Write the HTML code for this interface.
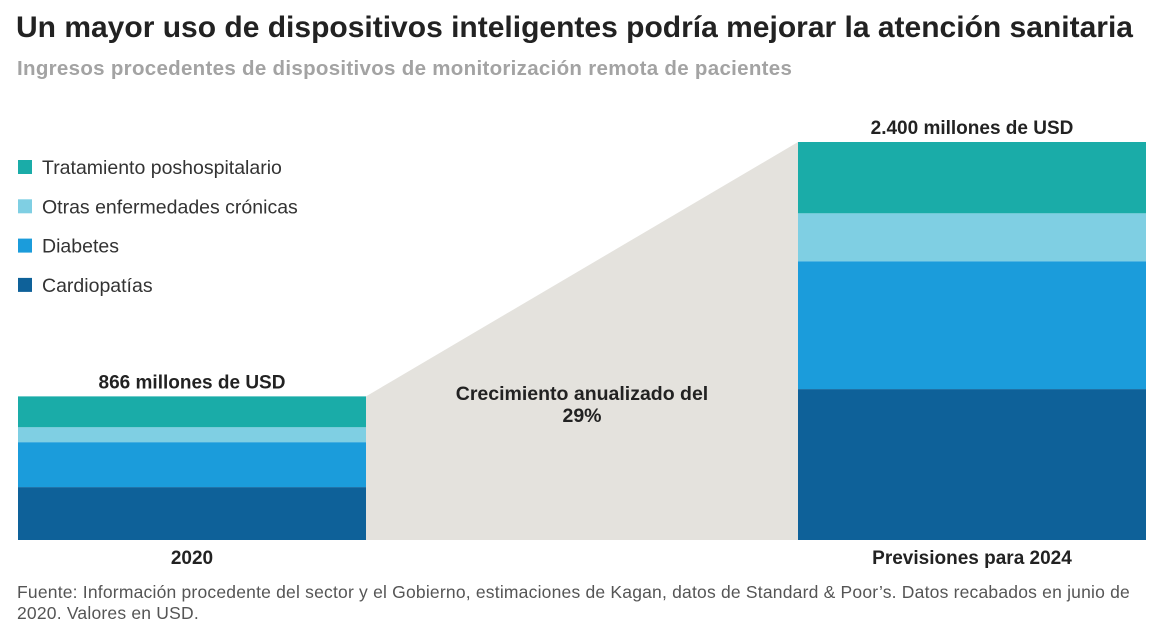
<!DOCTYPE html>
<html><head><meta charset="utf-8">
<style>
body{margin:0;background:#fff;font-family:"Liberation Sans",sans-serif;}
#wrap{position:relative;width:1164px;height:642px;overflow:hidden;}
.t{position:absolute;white-space:nowrap;}
</style></head>
<body>
<div id="wrap">
<div class="t" style="left:16px;top:11px;font-size:30px;color:#222;font-weight:bold;">Un mayor uso de dispositivos inteligentes podría mejorar la atención sanitaria</div>
<div class="t" style="left:17px;top:57px;font-size:20.5px;letter-spacing:0.3px;color:#a3a3a3;font-weight:bold;">Ingresos procedentes de dispositivos de monitorización remota de pacientes</div>
<svg id="chart" width="1164" height="642" style="position:absolute;left:0;top:0"></svg>
<div class="t" style="left:17px;top:582px;font-size:17.5px;letter-spacing:0.2px;color:#555;line-height:21px;white-space:normal;width:1120px;">Fuente: Información procedente del sector y el Gobierno, estimaciones de Kagan, datos de Standard &amp; Poor’s. Datos recabados en junio de 2020. Valores en USD.</div>
</div>
<script>
const categories=["2020","Previsiones para 2024"];
const seriesNames=["Cardiopatías","Diabetes","Otras enfermedades crónicas","Tratamiento poshospitalario"];
const cardio=[319,910];
const diabetes=[271,771];
const otras=[90,289];
const posthosp=[186,430];
const totalLabels=["866 millones de USD","2.400 millones de USD"];
const growthLabel=["Crecimiento anualizado del","29%"];

const svg=document.getElementById('chart');
const NS='http://www.w3.org/2000/svg';
const colors=["#0e6199","#1b9cdb","#7fcfe3","#1aaca8"];
const series=[cardio,diabetes,otras,posthosp];
const baseY=540, k=398/2400;
const barX=[18,798], barW=348;
const y=v=>baseY-v*k;
function mk(tag,attrs){const e=document.createElementNS(NS,tag);for(const a in attrs)e.setAttribute(a,attrs[a]);svg.appendChild(e);return e;}
const totals=categories.map((c,i)=>series.reduce((s,a)=>s+a[i],0));
const poly=mk('polygon',{points:`${barX[0]+barW},${y(totals[0])} ${barX[1]},${y(totals[1])} ${barX[1]},${baseY} ${barX[0]+barW},${baseY}`,fill:'#e4e2dd'});


categories.forEach((c,i)=>{
  let acc=0;
  series.forEach((s,j)=>{
    const r=mk('rect',{x:barX[i],y:y(acc+s[i]),width:barW,height:s[i]*k,fill:colors[j]});
    
    
    acc+=s[i];
  });
  const tl=mk('text',{x:barX[i]+barW/2,y:y(totals[i])-8,'text-anchor':'middle','font-size':19,'font-weight':'bold',fill:'#222'});
  tl.textContent=totalLabels[i];
  
  
  const xl=mk('text',{x:barX[i]+barW/2,y:564,'text-anchor':'middle','font-size':19,'font-weight':'bold',fill:'#222'});
  xl.textContent=c;
  
  
});
growthLabel.forEach((g,i)=>{
  const t=mk('text',{x:582,y:400+i*22,'text-anchor':'middle','font-size':19.5,'font-weight':'bold',fill:'#222'});
  t.textContent=g;
  
  
});
for(let j=3;j>=0;j--){
  const row=3-j, ly=167+row*39.3;
  const r=mk('rect',{x:18,y:ly-7,width:14,height:14,fill:colors[j]});
  
  
  const t=mk('text',{x:42,y:ly+7,'font-size':19.5,fill:'#333'});
  t.textContent=seriesNames[j];
  
  
}
</script>
</body></html>
